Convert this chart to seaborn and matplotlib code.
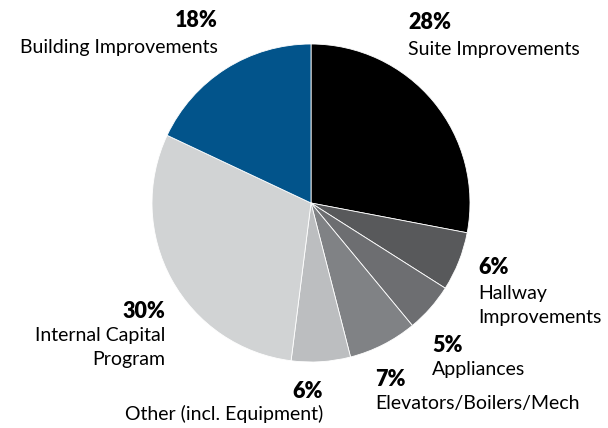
import matplotlib
matplotlib.use("Agg")
import matplotlib.pyplot as plt
import seaborn as sns

sns.set_theme(style="white")
plt.rcParams['font.family'] = ['Lato', 'DejaVu Sans']

categories = ["Suite Improvements", "Hallway\nImprovements", "Appliances",
              "Elevators/Boilers/Mech", "Other (incl. Equipment)",
              "Internal Capital\nProgram", "Building Improvements"]
values = [28, 6, 5, 7, 6, 30, 18]
pct_labels = ["28%", "6%", "5%", "7%", "6%", "30%", "18%"]
colors = ["#000000", "#58595b", "#6d6e71", "#808285", "#bcbec0", "#d1d3d4", "#02548b"]

W, H = 608, 428
fig = plt.figure(figsize=(W / 100, H / 100), dpi=100)
ax = fig.add_axes([0, 0, 1, 1])

cx, cy, r = 311, H - 203, 159
ax.pie(values, colors=colors, startangle=90, counterclock=False,
       center=(cx, cy), radius=r, frame=True,
       wedgeprops=dict(edgecolor='white', linewidth=0.6))
ax.set_xlim(0, W)
ax.set_ylim(0, H)
ax.set_aspect('equal')
ax.axis('off')

# label anchors (pixel coords from top), alignment
anchors = [
    (408, 22, 'left'),    # Suite
    (478, 268, 'left'),   # Hallway
    (432, 345, 'left'),   # Appliances
    (375, 380, 'left'),   # Elevators
    (323, 391, 'right'),  # Other
    (165, 312, 'right'),  # Internal
    (218, 20, 'right'),   # Building
]
gaps = [27, 25, 25, 24, 23, 23, 27]
for (x, y, ha), pct, name, g in zip(anchors, pct_labels, categories, gaps):
    ax.text(x, H - y, pct, ha=ha, va='center', fontsize=15.5, fontweight='heavy', color='black')
    for i, line in enumerate(name.split("\n")):
        ax.text(x, H - (y + g + i * 24), line, ha=ha, va='center', fontsize=14, color='black')

fig.savefig("out.png", dpi=100, facecolor='white')
